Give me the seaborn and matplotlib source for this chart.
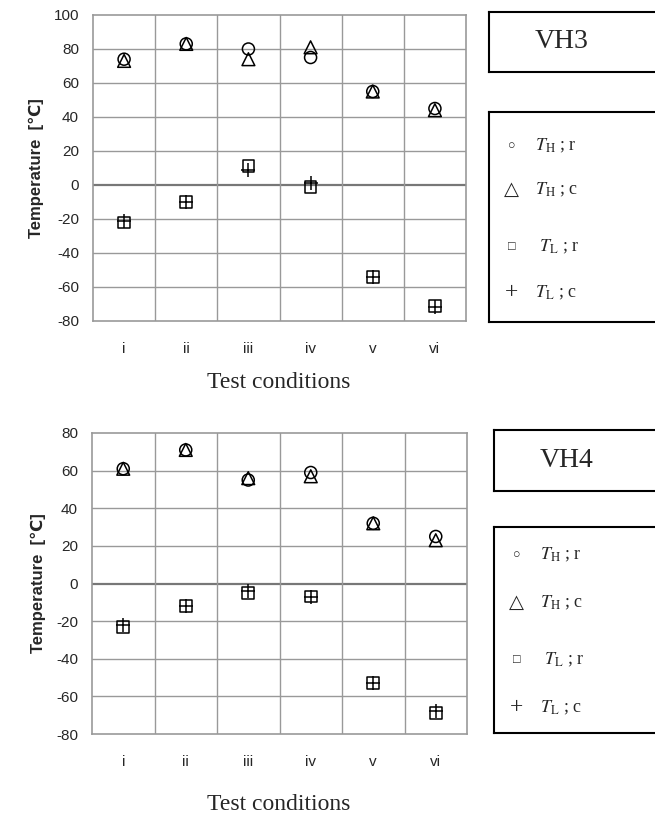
import matplotlib
matplotlib.use("Agg")
import matplotlib.pyplot as plt
import pandas as pd
import seaborn as sns

# test conditions on the x axis
conditions = ["i", "ii", "iii", "iv", "v", "vi"]

# VH3 (upper panel)
vh3_TH_r = [74, 83, 80, 75, 55, 45]
vh3_TH_c = [73, 83, 74, 81, 55, 44]
vh3_TL_r = [-22, -10, 11, -1, -54, -71]
vh3_TL_c = [-21, -10, 9, 1, -54, -72]

# VH4 (lower panel)
vh4_TH_r = [61, 71, 55, 59, 32, 25]
vh4_TH_c = [61, 71, 56, 57, 32, 23]
vh4_TL_r = [-23, -12, -5, -7, -53, -69]
vh4_TL_c = [-22, -12, -4, -7, -53, -68]

series_names = ["TH_r", "TH_c", "TL_r", "TL_c"]
legend_labels = [r"$T_{\mathrm{H}}$ ; r", r"$T_{\mathrm{H}}$ ; c",
                 r"$T_{\mathrm{L}}$ ; r", r"$T_{\mathrm{L}}$ ; c"]
legend_glyphs = ["\u25cb", "\u25b3", "\u25a1", "+"]

sns.set_style("white")
plt.rcParams["mathtext.fontset"] = "stix"
plt.rcParams["axes.unicode_minus"] = False
plt.rcParams["font.family"] = ["Liberation Sans", "DejaVu Sans"]

GRID = "#999999"
SERIF = ["Liberation Serif", "DejaVu Serif", "DejaVu Sans"]

fig = plt.figure(figsize=(6.55, 8.16), dpi=100)


def make_frame(values):
    rows = []
    for sname, vals in zip(series_names, values):
        for c, v in zip(conditions, vals):
            rows.append({"cond": c, "temp": v, "series": sname})
    return pd.DataFrame(rows)


def draw_panel(rect, df, ylim, minor):
    ax = fig.add_axes(rect)
    styles = {
        "TH_r": dict(marker="o", s=75, facecolors="none", edgecolors="black", linewidths=1.1),
        "TH_c": dict(marker="^", s=85, facecolors="none", edgecolors="black", linewidths=1.1),
        "TL_r": dict(marker="s", s=70, facecolors="none", edgecolors="black", linewidths=1.1),
        "TL_c": dict(marker="+", s=100, color="black", linewidths=1.1),
    }
    for sname in series_names:
        sub = df[df.series == sname]
        sns.scatterplot(data=sub, x="cond", y="temp", ax=ax, legend=False,
                        zorder=3, **styles[sname])
    ax.set_xlim(-0.5, len(conditions) - 0.5)
    ax.set_ylim(*ylim)
    ax.set_yticks(range(ylim[0], ylim[1] + 1, 20))
    ax.set_xticks(range(len(conditions)))
    ax.set_xticklabels(conditions)
    # horizontal grid at major ticks, vertical lines between conditions
    for yv in range(ylim[0] + 20, ylim[1], 20):
        ax.axhline(yv, color="#777777" if yv == 0 else GRID,
                   lw=1.6 if yv == 0 else 1.0, zorder=1)
    for k in range(1, len(conditions)):
        ax.axvline(k - 0.5, color=GRID, lw=1.0, zorder=1)
    for sp in ax.spines.values():
        sp.set_color(GRID)
        sp.set_linewidth(1.2)
    ax.tick_params(axis="x", length=0, pad=15, labelsize=11)
    ax.tick_params(axis="y", length=0, pad=10, labelsize=11)
    if minor:
        ax.set_yticks(range(ylim[0], ylim[1] + 1, 10), minor=True)
        ax.tick_params(axis="y", which="minor", direction="in", length=4,
                       color=GRID, width=1)
    ax.set_xlabel("")
    ax.set_ylabel("Temperature  [\u2103]", fontsize=12, fontweight="bold",
                  labelpad=7)
    return ax


def draw_key(title_rect, box_rect, title, rows_px, box_px):
    tax = fig.add_axes(title_rect)
    tax.set_xticks([])
    tax.set_yticks([])
    for sp in tax.spines.values():
        sp.set_color("black")
        sp.set_linewidth(1.5)
    tax.text(0.37, 0.5, title, transform=tax.transAxes, ha="center",
             va="center", fontsize=20, family=SERIF)

    kax = fig.add_axes(box_rect)
    kax.set_xticks([])
    kax.set_yticks([])
    for sp in kax.spines.values():
        sp.set_color("black")
        sp.set_linewidth(1.5)
    top, bottom = box_px
    sizes = {"\u25cb": 9, "\u25a1": 9, "\u25b3": 14, "+": 17}
    for glyph, lab, y in zip(legend_glyphs, legend_labels, rows_px):
        yy = (bottom - y) / (bottom - top)
        kax.text(0.115, yy, glyph, transform=kax.transAxes, ha="center",
                 va="center", fontsize=sizes[glyph], family=SERIF)
        xoff = 0.255 if glyph == "\u25a1" else 0.235
        kax.text(xoff, yy, lab, transform=kax.transAxes, ha="left",
                 va="center", fontsize=13, family=SERIF)


W, H = 655.0, 816.0

df3 = make_frame([vh3_TH_r, vh3_TH_c, vh3_TL_r, vh3_TL_c])
draw_panel([93 / W, 1 - 321 / H, 373 / W, 306 / H], df3, (-80, 100), True)
fig.text(279 / W, 1 - 383 / H, "Test conditions", ha="center", va="center",
         fontsize=17, family=SERIF)
draw_key([489 / W, 1 - 72 / H, 0.3, 60 / H],
         [489 / W, 1 - 322 / H, 0.3, 210 / H], "VH3",
         [146, 190, 247, 293], (112, 322))

df4 = make_frame([vh4_TH_r, vh4_TH_c, vh4_TL_r, vh4_TL_c])
draw_panel([92 / W, 1 - 734 / H, 375 / W, 301 / H], df4, (-80, 80), False)
fig.text(279 / W, 1 - 805 / H, "Test conditions", ha="center", va="center",
         fontsize=17, family=SERIF)
draw_key([494 / W, 1 - 491 / H, 0.3, 61 / H],
         [494 / W, 1 - 733 / H, 0.3, 206 / H], "VH4",
         [555, 603, 660, 708], (527, 733))

fig.savefig("out.png", dpi=100)
